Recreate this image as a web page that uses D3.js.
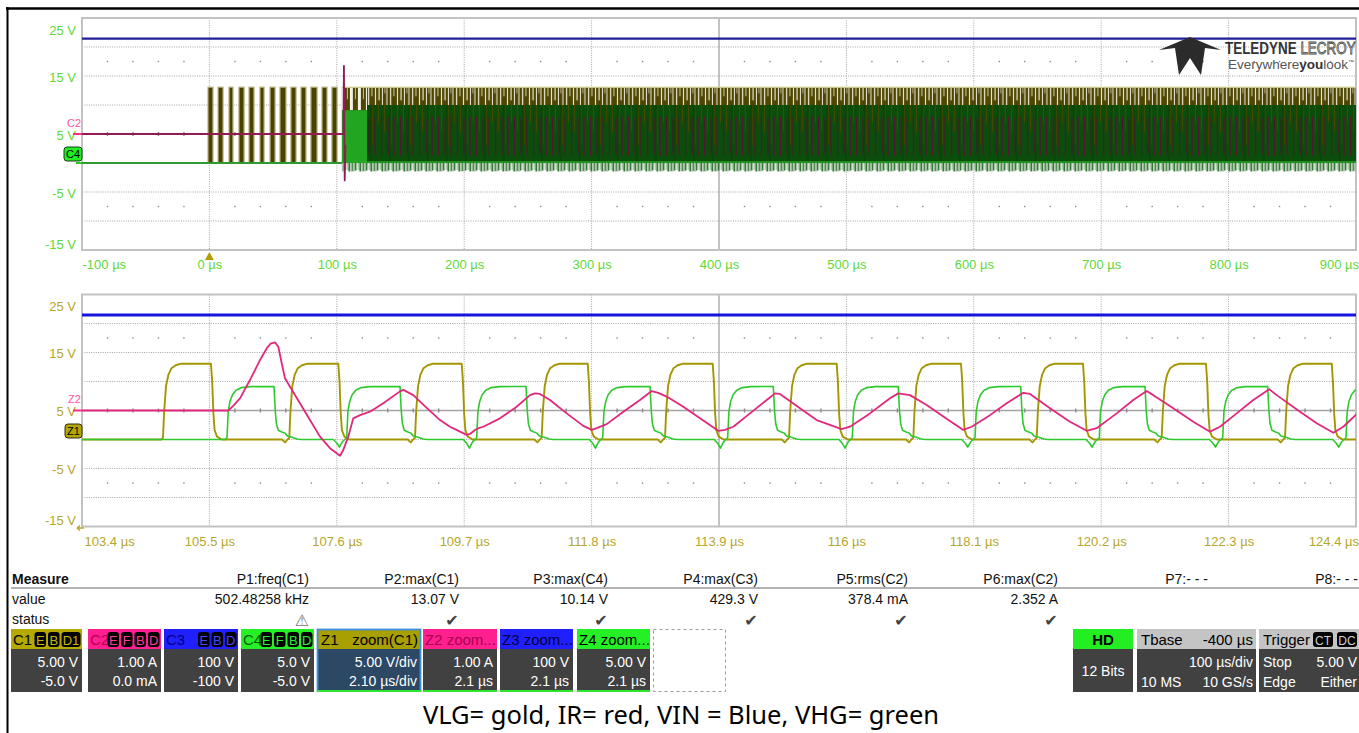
<!DOCTYPE html>
<html><head><meta charset="utf-8">
<script src="https://cdn.jsdelivr.net/npm/d3@7"></script>
<style>
html,body{margin:0;padding:0;background:#fff;}
svg{display:block;}
</style></head><body>
<svg id="c" width="1359" height="733"></svg>
<script>
// ---------------- DATA ----------------
const topTimeTicks = [-100, 0, 100, 200, 300, 400, 500, 600, 700, 800, 900];
const topTimeLabels = ["-100 µs","0 µs","100 µs","200 µs","300 µs","400 µs","500 µs","600 µs","700 µs","800 µs","900 µs"];
const zoomTimeTicks = [103.4, 105.5, 107.6, 109.7, 111.8, 113.9, 116.0, 118.1, 120.2, 122.3, 124.4];
const zoomTimeLabels = ["103.4 µs","105.5 µs","107.6 µs","109.7 µs","111.8 µs","113.9 µs","116 µs","118.1 µs","120.2 µs","122.3 µs","124.4 µs"];
const voltTicks = [25, 15, 5, -5, -15];
const voltLabels = ["25 V","15 V","5 V","-5 V","-15 V"];

// channel vertical settings (value at screen centre, units per division): C1, C2, C3, C4
const chanCenter = [5, 0, 100, 5];
const chanPerDiv = [5, 1, 100, 5];

// ---- top (full acquisition) trace, µs ----
const topVin = [[-100, 429], [900, 429]];                       // C3, V
const topBaseline = [[-100, 0], [104, 0]];                      // C1 / C4 before switching, V
const topIrPre = [[-100, 0], [105.2, 0], [105.6, 2.35], [106.2, -1.6], [106.8, -0.4]]; // C2, A
const topGoldBursts = [[-1.1,2.8],[6.8,10.7],[15.4,18.5],[23.2,27.2],[31.1,35.0],[39.7,42.9],[47.6,51.5],[55.4,60.1],[64.0,68.0],[71.9,75.8],[79.7,84.5],[88.4,92.3],[96.2,100.2]];
const topDenseSpan = [104, 900];       // continuous switching, µs
const topStartupEnd = 123.7;           // end of the start-up burst, µs
const topGoldEnvelope = [0, 13.07];    // V
const topGreenEnvelopeStartup = [-1.5, 9.1]; // V
const topGreenEnvelope = [-1.5, 10.0]; // V
const topIrEnvelope = [-0.75, 0.6];    // A

// ---- zoom trace, µs ----
const zVin = [[103.4, 429], [124.4, 429]];
const zGoldRise = [104.735, 106.817, 108.889, 110.977, 113.010, 115.054, 117.103, 119.137, 121.197, 123.230];
const zGoldFall = [105.526, 107.625, 109.659, 111.736, 113.796, 115.840, 117.889, 119.900, 121.927, 124.000];
const zGoldDip  = [0, -0.5, -0.5, -0.5, -0.5, -0.5, -0.5, -0.5, -0.5, -0.5];
const goldRiseShape = [[-0.12,0],[-0.07,"dip",1],[-0.03,0],[0,0.3],[0.02,5],[0.05,9.2],[0.09,11.2],[0.14,12.3],[0.21,12.8],[0.3,13.07]];
const goldFallShape = [[0,13.07],[0.02,10],[0.04,4.5],[0.06,1.6],[0.1,0.5],[0.18,0]];
const zGreenRise = [105.790, 107.763, 109.906, 111.983, 114.043, 116.097, 118.120, 120.169, 122.203, 124.235];
const zGreenFall = [106.565, 108.642, 110.719, 112.763, 114.795, 116.855, 118.873, 120.922, 122.944];
const zGreenDip  = [0, -1.3, -1.5, -1.5, -1.5, -1.5, -1.3, -1.3, -1.3, -1.3];
const greenRiseShape = [[-0.22,0],[-0.16,"dip",0.5],[-0.12,"dip",1],[-0.07,"dip",0.3],[-0.03,0],[0,0.3],[0.02,4.8],[0.05,6.6],[0.09,7.7],[0.15,8.5],[0.24,8.95],[0.38,9.12]];
const greenFallShape = [[0,9.15],[0.02,5],[0.04,2.7],[0.07,1.6],[0.12,1.35],[0.18,1.1],[0.22,0.6],[0.3,0.4],[0.38,0.1],[0.45,0]];
const zIr = [[103.4,0],[105.812,0],[105.889,0.15],[106.004,0.42],[106.169,1.05],[106.334,1.74],[106.444,2.14],[106.510,2.31],[106.581,2.35],[106.636,2.2],[106.692,1.63],[106.746,1.11],[106.829,0.82],[106.993,0.25],[107.158,-0.33],[107.323,-0.9],[107.488,-1.3],[107.653,-1.56],[107.707,-1.36],[107.790,-0.9],[107.872,-0.27],[107.983,-0.16],[108.147,-0.04],[108.366,0.25],[108.642,0.66],[108.696,0.71],[108.861,0.53],[109.082,0.09],[109.301,-0.33],[109.466,-0.56],[109.631,-0.73],[109.741,-0.84],[109.796,-0.81],[109.878,-0.67],[109.932,-0.61],[110.015,-0.56],[110.290,-0.27],[110.565,0.13],[110.785,0.53],[110.867,0.59],[110.949,0.57],[111.114,0.36],[111.390,-0.1],[111.663,-0.53],[111.802,-0.67],[111.884,-0.61],[112.049,-0.47],[112.323,-0.04],[112.598,0.36],[112.791,0.67],[112.899,0.61],[113.038,0.48],[113.312,0.13],[113.587,-0.27],[113.888,-0.7],[113.999,-0.67],[114.136,-0.56],[114.411,-0.1],[114.686,0.36],[114.823,0.59],[114.905,0.57],[115.235,0.08],[115.510,-0.33],[115.922,-0.64],[116.059,-0.56],[116.389,-0.1],[116.719,0.42],[116.856,0.59],[117.048,0.53],[117.323,0.19],[117.597,-0.21],[117.927,-0.67],[118.065,-0.56],[118.367,-0.16],[118.642,0.25],[118.916,0.61],[119.026,0.57],[119.356,0.08],[119.685,-0.39],[119.961,-0.7],[120.126,-0.61],[120.455,-0.1],[120.729,0.36],[120.950,0.67],[121.059,0.53],[121.388,0.08],[121.718,-0.39],[121.993,-0.73],[122.158,-0.56],[122.433,-0.1],[122.707,0.36],[122.971,0.73],[123.093,0.53],[123.477,-0.04],[123.752,-0.44],[124.027,-0.77],[124.191,-0.56],[124.412,-0.12]];

// ---- measurements / descriptors ----
const measureNames = ["P1:freq(C1)","P2:max(C1)","P3:max(C4)","P4:max(C3)","P5:rms(C2)","P6:max(C2)","P7:- - -","P8:- - -"];
const measureValues = ["502.48258 kHz","13.07 V","10.14 V","429.3 V","378.4 mA","2.352 A","",""];
const measureStatus = ["warn","ok","ok","ok","ok","ok","",""];
const chanBoxLabels = ["C1","C2","C3","C4"];
const chanBoxBadges = [["E","B","D1"],["E","F","B","D"],["E","B","D"],["E","F","B","D"]];
const chanBoxScale = ["5.00 V","1.00 A","100 V","5.0 V"];
const chanBoxOffset = ["-5.0 V","0.0 mA","-100 V","-5.0 V"];
const zoomBoxLabels = ["Z1","Z2","Z3","Z4"];
const zoomBoxTitles = ["zoom(C1)","zoom...","zoom...","zoom..."];
const zoomBoxScale = ["5.00 V/div","1.00 A","100 V","5.00 V"];
const zoomBoxTime = ["2.10 µs/div","2.1 µs","2.1 µs","2.1 µs"];
const caption = "VLG= gold, IR= red, VIN = Blue, VHG= green";

// ---------------- DRAWING ----------------
const W = 1359, H = 733;
const F = '"Liberation Sans", Arial, sans-serif';
const svg = d3.select("#c");
const defs = svg.append("defs");

svg.append("line").attr("x1",6).attr("x2",W).attr("y1",8.5).attr("y2",8.5).attr("stroke","#000").attr("stroke-width",2.5);
svg.append("line").attr("x1",7.5).attr("x2",7.5).attr("y1",7).attr("y2",H).attr("stroke","#000").attr("stroke-width",2);

const L = 82, R = 1356;
const topT = 18, topB = 250, botT = 294.5, botB = 526.5;
const xTop = d3.scaleLinear().domain([topTimeTicks[0], topTimeTicks[topTimeTicks.length-1]]).range([L, R]);
const xZoom = d3.scaleLinear().domain([zoomTimeTicks[0], zoomTimeTicks[zoomTimeTicks.length-1]]).range([L, R]);
const yTop = d3.scaleLinear().domain([-15, 25]).range([topB, topT]);
const yZoom = d3.scaleLinear().domain([-15, 25]).range([botB, botT]);
const chanToDisp = ci => v => 5 + (v - chanCenter[ci]) / chanPerDiv[ci] * 5;
const c1 = chanToDisp(0), c2 = chanToDisp(1), c3 = chanToDisp(2), c4 = chanToDisp(3);

function grid(x, y, ticks) {
  const g = svg.append("g");
  const x0 = x.range()[0], x1 = x.range()[1];
  const hv = [20, 15, 10, 0, -5, -10];
  g.selectAll(null).data(hv).join("line")
    .attr("x1", x0).attr("x2", x1).attr("y1", d => y(d)).attr("y2", d => y(d))
    .attr("stroke", "#a6a6a6").attr("stroke-width", 1).attr("stroke-dasharray", "1,1.3");
  const inner = ticks.slice(1, -1);
  g.selectAll(null).data(inner).join("line")
    .attr("x1", d => x(d)).attr("x2", d => x(d)).attr("y1", y(25)).attr("y2", y(-15))
    .attr("stroke", (d, i) => i === 4 ? "#b4b4b4" : "#a6a6a6")
    .attr("stroke-width", (d, i) => i === 4 ? 1.6 : 1)
    .attr("stroke-dasharray", (d, i) => i === 4 ? null : "1,1.3");
  g.append("line").attr("x1", x0).attr("x2", x1).attr("y1", y(5)).attr("y2", y(5))
    .attr("stroke", "#a4a4a4").attr("stroke-width", 1.4);
  const step = (ticks[1] - ticks[0]) / 5;
  const minor = [];
  for (let k = 1; k < 50; k++) if (k % 5) minor.push(ticks[0] + k * step);
  [17.5, 5, -7.5].forEach(v => {
    g.selectAll(null).data(minor).join("rect")
      .attr("x", d => x(d) - 0.7).attr("y", y(v) - (v === 5 ? 2 : 0.7))
      .attr("width", 1.4).attr("height", v === 5 ? 4 : 1.4).attr("fill", "#8a8a8a");
  });
  g.append("rect").attr("x", x0).attr("y", y(25)).attr("width", x1 - x0).attr("height", y(-15) - y(25))
    .attr("fill", "none").attr("stroke", "#c2c2c2").attr("stroke-width", 2);
}
grid(xTop, yTop, topTimeTicks);
grid(xZoom, yZoom, zoomTimeTicks);

function xAxis(yPos, scale, ticks, labels, color, firstDx) {
  const ax = d3.axisBottom(scale).tickValues(ticks).tickFormat((d, i) => labels[i]).tickSize(0).tickPadding(10);
  const g = svg.append("g").attr("transform", `translate(0,${yPos})`).call(ax);
  g.select(".domain").remove();
  g.attr("font-family", F).attr("font-size", 13);
  g.selectAll("text").attr("fill", color);
  const t = g.selectAll("text").nodes();
  d3.select(t[0]).attr("text-anchor", "start").attr("dx", firstDx);
  d3.select(t[t.length - 1]).attr("text-anchor", "end").attr("dx", 2.5);
}
function yAxis(scale, color) {
  const ax = d3.axisLeft(scale).tickValues(voltTicks).tickFormat((d, i) => voltLabels[i]).tickSize(0).tickPadding(6);
  const g = svg.append("g").attr("transform", `translate(${L},0)`).call(ax);
  g.select(".domain").remove();
  g.attr("font-family", F).attr("font-size", 13);
  g.selectAll("text").attr("fill", color).attr("dy", "0.42em");
  const t = g.selectAll("text").nodes();
  d3.select(t[0]).attr("y", 11);
  d3.select(t[t.length - 1]).attr("y", -7);
}
xAxis(topB, xTop, topTimeTicks, topTimeLabels, "#5fd83a", 0);
xAxis(botB, xZoom, zoomTimeTicks, zoomTimeLabels, "#b5a62c", 2);
yAxis(yTop, "#5fd83a");
yAxis(yZoom, "#b5a62c");

// clip paths
defs.append("clipPath").attr("id", "clipTop").append("rect").attr("x", L).attr("y", topT).attr("width", R - L).attr("height", topB - topT);
defs.append("clipPath").attr("id", "clipBot").append("rect").attr("x", L).attr("y", botT).attr("width", R - L).attr("height", botB - botT);

function trace(g, x, y, f, data, color, w) {
  g.append("path").datum(data)
    .attr("d", d3.line().x(d => x(d[0])).y(d => y(f(d[1]))))
    .attr("fill", "none").attr("stroke", color).attr("stroke-width", w)
    .attr("stroke-linejoin", "round");
}

// stripe patterns for the persistence band (items: [dx, y0px, y1px, width, colour])
function pattern(id, w, bg, items) {
  const p = defs.append("pattern").attr("id", id).attr("patternUnits", "userSpaceOnUse")
    .attr("x", xTop(topDenseSpan[0])).attr("y", 0).attr("width", w).attr("height", H);
  if (bg) p.append("rect").attr("width", w).attr("height", H).attr("fill", bg);
  items.forEach(([dx, a, b, ww, col]) => p.append("rect").attr("x", dx).attr("y", Math.min(a, b))
    .attr("width", ww).attr("height", Math.abs(b - a)).attr("fill", col));
}
const yGoldHi = yTop(c1(topGoldEnvelope[1])), yGoldLo = yTop(c1(topGoldEnvelope[0]));
const yGrHi = yTop(c4(topGreenEnvelope[1])), yGrHiS = yTop(c4(topGreenEnvelopeStartup[1]));
const yGr0 = yTop(c4(0)), yGrLo = yTop(c4(topGreenEnvelope[0]));
const yIrHi = yTop(c2(topIrEnvelope[1])), yIrLo = yTop(c2(topIrEnvelope[0]));
pattern("goldGap", 22, null, [
  [0.5, yGoldHi, yGrHi, 1, "#efeee0"], [4, yGoldHi, yGrHi, 1.3, "#e4e2c8"], [7.5, yGoldHi, yTop(c1(11.5)), 1, "#d9d6b0"],
  [11, yGoldHi, yGrHi, 1.1, "#f0efe2"], [14.5, yGoldHi, yTop(c1(10.8)), 1.3, "#e0ddbf"], [18, yGoldHi, yGrHi, 1, "#efeee0"],
  [20.5, yGoldHi, yTop(c1(12)), 0.8, "#cfcaa0"]]);
pattern("goldGapA", 8, null, [[0, yGoldHi, yGrHiS, 3, "#f2f1e6"], [5, yGoldHi, yTop(c1(11)), 1, "#c9c396"]]);
pattern("greenStripes", 19, null, [
  [1, yIrHi, yIrLo, 1.2, "#561237"], [7.5, yTop(c2(0.55)), yTop(c2(-0.7)), 1.2, "#4e1531"], [13.5, yIrHi, yIrLo, 1.2, "#5a1038"],
  [4, yGrHi, yTop(c4(5.5)), 1, "#4a4600"], [11, yGrHi, yTop(c4(3)), 1, "#454100"], [17, yGrHi, yTop(c4(7)), 1, "#4c4700"],
  [9.5, yGrHi, yGr0, 0.8, "#063906"]]);
pattern("fringe", 11, null, [
  [0, yGr0, yGrLo, 2, "#a9c2a9"], [2, yGr0, yTop(c4(-1.3)), 1.5, "#2a752a"], [4.5, yGr0, yTop(c4(-1.2)), 1.8, "#b3c8b3"],
  [6.5, yGr0, yGrLo, 1.5, "#237023"], [8.3, yGr0, yGrLo, 1.8, "#a3bda3"], [10.1, yGr0, yTop(c4(-1.4)), 0.9, "#2f7a2f"]]);

// ---- top panel traces ----
const gTop = svg.append("g").attr("clip-path", "url(#clipTop)");
trace(gTop, xTop, yTop, c3, topVin, "#1f1f98", 2.2);
trace(gTop, xTop, yTop, c1, topBaseline, "#8a8000", 2);
gTop.selectAll(null).data(topGoldBursts).join("rect")
  .attr("x", d => xTop(d[0])).attr("width", d => xTop(d[1]) - xTop(d[0]))
  .attr("y", yGoldHi).attr("height", yGoldLo - yGoldHi)
  .attr("fill", "#4a4200").attr("stroke", "#b6ae7c").attr("stroke-width", 1.2);
const xd0 = xTop(topDenseSpan[0]), xd1 = xTop(topDenseSpan[1]), xs1 = xTop(topStartupEnd);
gTop.append("rect").attr("x", xd0).attr("y", yGoldHi).attr("width", xd1 - xd0).attr("height", yGoldLo - yGoldHi).attr("fill", "#4d4500");
gTop.append("rect").attr("x", xs1).attr("y", yGoldHi).attr("width", xd1 - xs1).attr("height", yGrHi - yGoldHi).attr("fill", "url(#goldGap)");
gTop.append("rect").attr("x", xd0).attr("y", yGoldHi).attr("width", xs1 - xd0).attr("height", yGrHiS - yGoldHi).attr("fill", "url(#goldGapA)");
gTop.append("rect").attr("x", xd0).attr("y", yGoldHi - 0.5).attr("width", xd1 - xd0).attr("height", 1.2).attr("fill", "#d2cc92");
gTop.append("rect").attr("x", xs1).attr("y", yGrHi).attr("width", xd1 - xs1).attr("height", yGr0 - yGrHi).attr("fill", "#0b4d0b");
gTop.append("rect").attr("x", xd0).attr("y", yGrHiS).attr("width", xs1 - xd0).attr("height", yGr0 - yGrHiS).attr("fill", "#22a622");
gTop.append("rect").attr("x", xs1).attr("y", yGrHi).attr("width", xd1 - xs1).attr("height", yGr0 - yGrHi).attr("fill", "url(#greenStripes)");
gTop.append("rect").attr("x", xd0).attr("y", yGr0).attr("width", xd1 - xd0).attr("height", yGrLo - yGr0).attr("fill", "url(#fringe)");
gTop.append("line").attr("x1", xd0).attr("x2", xd1).attr("y1", yGr0 - 1).attr("y2", yGr0 - 1).attr("stroke", "#27a727").attr("stroke-width", 1.6);
trace(gTop, xTop, yTop, c4, topBaseline, "#2f9a2f", 1.8);
trace(gTop, xTop, yTop, c2, topIrPre, "#931a55", 1.8);

// ---- zoom panel traces ----
function buildPulses(start, end, rises, falls, riseShape, fallShape, dips) {
  const pts = [[start, 0]];
  rises.forEach((r, i) => {
    riseShape.forEach(([dt, v, fr]) => pts.push([r + dt, v === "dip" ? dips[i] * fr : v]));
    if (i < falls.length) fallShape.forEach(([dt, v]) => pts.push([falls[i] + dt, v]));
  });
  const last = pts[pts.length - 1];
  if (last[0] < end) pts.push([end, last[1]]);
  return pts;
}
const zGold = buildPulses(103.4, 124.4, zGoldRise, zGoldFall, goldRiseShape, goldFallShape, zGoldDip);
const zGreen = buildPulses(103.4, 124.4, zGreenRise, zGreenFall, greenRiseShape, greenFallShape, zGreenDip);
const gBot = svg.append("g").attr("clip-path", "url(#clipBot)");
trace(gBot, xZoom, yZoom, c3, zVin, "#1515dc", 3);
trace(gBot, xZoom, yZoom, c1, zGold, "#a49600", 1.9);
trace(gBot, xZoom, yZoom, c4, zGreen, "#2fc92f", 1.6);
trace(gBot, xZoom, yZoom, c2, zIr, "#e0287c", 1.8);

// ---- channel markers ----
const fM = F;
svg.append("text").attr("x", 67).attr("y", 127).attr("font-family", fM).attr("font-size", 11).attr("fill", "#ff55a6").text("C2");
svg.append("line").attr("x1", 73).attr("x2", L).attr("y1", yTop(c2(0))).attr("y2", yTop(c2(0))).attr("stroke", "#ff2a8a").attr("stroke-width", 2);
svg.append("rect").attr("x", 64).attr("y", 147).attr("width", 18).attr("height", 14).attr("rx", 3).attr("fill", "#22ee22").attr("stroke", "#1b3f1b");
svg.append("text").attr("x", 73).attr("y", 158).attr("text-anchor", "middle").attr("font-family", fM).attr("font-size", 11).attr("fill", "#000").text("C4");
svg.append("line").attr("x1", 76).attr("x2", L).attr("y1", yTop(c4(0))).attr("y2", yTop(c4(0))).attr("stroke", "#22cc22").attr("stroke-width", 2);
svg.append("path").attr("d", `M${xTop(0) - 4.5},260 L${xTop(0) + 4.5},260 L${xTop(0)},252 Z`).attr("fill", "#b39d00");

svg.append("text").attr("x", 68).attr("y", 403).attr("font-family", fM).attr("font-size", 11).attr("fill", "#ff55a6").text("Z2");
svg.append("line").attr("x1", 73).attr("x2", L).attr("y1", yZoom(c2(0))).attr("y2", yZoom(c2(0))).attr("stroke", "#ff2a8a").attr("stroke-width", 2);
svg.append("rect").attr("x", 65).attr("y", 424).attr("width", 17).attr("height", 14).attr("rx", 3).attr("fill", "#b3a600").attr("stroke", "#2e2e12");
svg.append("text").attr("x", 73.5).attr("y", 435).attr("text-anchor", "middle").attr("font-family", fM).attr("font-size", 11).attr("fill", "#000").text("Z1");
svg.append("path").attr("d", "M77,528 L84,528 M77,528 L80,525.5 M77,528 L80,530.5").attr("stroke", "#b5a62c").attr("stroke-width", 1.3).attr("fill", "none");

// ---- logo ----
svg.append("polygon").attr("points", "1159,50 1190,37 1221,50 1205,48 1201,75 1190,58 1179,75 1175,48").attr("fill", "#2b2b2b");
const lg = svg.append("text").attr("transform", "translate(1225,54) scale(0.84,1)")
  .attr("font-family", F).attr("font-size", 16);
lg.append("tspan").attr("font-weight", "bold").attr("fill", "#333").text("TELEDYNE");
lg.append("tspan").attr("fill", "#e6e6e6").attr("stroke", "#444").attr("stroke-width", 0.8).text(" LECROY");
const ev = svg.append("text").attr("x", 1228).attr("y", 69).attr("font-family", F).attr("font-size", 13.5).attr("fill", "#555");
ev.append("tspan").text("Everywhere");
ev.append("tspan").attr("font-weight", "bold").attr("fill", "#333").text("you");
ev.append("tspan").text("look");
ev.append("tspan").attr("font-size", 6).attr("dy", -5).text("™");

// ---- measurement table ----
const mt = svg.append("g").attr("font-family", F).attr("font-size", 14).attr("fill", "#111");
mt.append("text").attr("x", 12).attr("y", 584).attr("font-weight", "bold").text("Measure");
mt.append("text").attr("x", 12).attr("y", 604).text("value");
mt.append("text").attr("x", 12).attr("y", 624).text("status");
mt.append("line").attr("x1", 11).attr("x2", W).attr("y1", 588).attr("y2", 588).attr("stroke", "#b3b3b3").attr("stroke-width", 2);
const colR = measureNames.map((d, i) => 309 + 150 * i - (i >= 2 ? 1 : 0));
mt.selectAll(null).data(measureNames).join("text").attr("x", (d, i) => colR[i]).attr("y", 584).attr("text-anchor", "end").text(d => d);
mt.selectAll(null).data(measureValues).join("text").attr("x", (d, i) => colR[i]).attr("y", 604).attr("text-anchor", "end").text(d => d);
mt.selectAll(null).data(measureStatus).join("text").attr("x", (d, i) => colR[i] - 7).attr("y", 626)
  .attr("text-anchor", "middle").attr("font-family", "DejaVu Sans").attr("font-size", 16)
  .attr("font-weight", "bold")
  .attr("fill", d => d === "warn" ? "#7a7a7a" : "#444").text(d => d === "warn" ? "⚠" : d === "ok" ? "✔" : "");

// ---- channel / zoom descriptor boxes ----
const bg = svg.append("g").attr("font-family", F).attr("font-size", 14);
function boxBase(x, w, head, body) {
  bg.append("rect").attr("x", x).attr("y", 629).attr("width", w).attr("height", 20).attr("fill", head);
  bg.append("rect").attr("x", x).attr("y", 649).attr("width", w).attr("height", 43).attr("fill", body);
}
function t(x, y, s, anchor, fill, extra) {
  const e = bg.append("text").attr("x", x).attr("y", y).attr("text-anchor", anchor).attr("fill", fill).text(s);
  if (extra) extra(e);
  return e;
}
const chX = [11, 88, 164, 241], chW = [71, 73, 74, 73];
const chHead = ["#b5a900", "#ff1f8f", "#2020ff", "#25f025"];
const chBadgeTxt = ["#c4b800", "#ff3a9c", "#4848ff", "#2cf02c"];
const chLabelTxt = ["#000", "#b8005a", "#00007a", "#0a5a0a"];
chanBoxLabels.forEach((lab, i) => {
  boxBase(chX[i], chW[i], chHead[i], "#414141");
  t(chX[i] + 2, 645, lab, "start", chLabelTxt[i], e => e.attr("font-size", 15));
  let xr = chX[i] + chW[i] - 1.5;
  chanBoxBadges[i].slice().reverse().forEach(b => {
    const bw = b.length > 1 ? 19 : 11.5;
    bg.append("rect").attr("x", xr - bw).attr("y", 632).attr("width", bw).attr("height", 15).attr("rx", 3).attr("fill", "#000");
    t(xr - bw / 2, 644.5, b, "middle", chBadgeTxt[i], e => e.attr("font-size", 13));
    xr -= bw + 2;
  });
  t(chX[i] + chW[i] - 4, 667, chanBoxScale[i], "end", "#fff");
  t(chX[i] + chW[i] - 4, 686, chanBoxOffset[i], "end", "#fff");
});
const zX = [317, 423, 500, 577], zW = [104, 74, 73, 73];
const zHead = ["#a89f00", "#ff1f8f", "#2020ff", "#25f025"];
const zLabelTxt = ["#000", "#a8004e", "#00003a", "#000"];
zoomBoxLabels.forEach((lab, i) => {
  boxBase(zX[i], zW[i], zHead[i], i === 0 ? "#2c4864" : "#414141");
  if (i === 0) {
    t(zX[i] + 4, 645, lab, "start", "#000", e => e.attr("font-size", 15));
    t(zX[i] + zW[i] - 3, 645, zoomBoxTitles[i], "end", "#000", e => e.attr("font-size", 15));
    bg.append("rect").attr("x", zX[i] + 0.5).attr("y", 629.5).attr("width", zW[i] - 1).attr("height", 61.5).attr("fill", "none").attr("stroke", "#3d8fe0").attr("stroke-width", 1.8);
  } else {
    t(zX[i] + 2, 645, lab + " " + zoomBoxTitles[i], "start", zLabelTxt[i], e => e.attr("font-size", 15));
  }
  bg.append("rect").attr("x", zX[i]).attr("y", 690).attr("width", zW[i]).attr("height", 2).attr("fill", "#2ee62e");
  t(zX[i] + zW[i] - 4, 667, zoomBoxScale[i], "end", "#fff");
  t(zX[i] + zW[i] - 4, 686, zoomBoxTime[i], "end", "#fff");
});
bg.append("rect").attr("x", 653.5).attr("y", 629.5).attr("width", 72).attr("height", 62).attr("fill", "none").attr("stroke", "#9a9a9a").attr("stroke-dasharray", "3,3");

// HD / Tbase / Trigger
boxBase(1073, 60, "#22ee22", "#414141");
t(1103, 645, "HD", "middle", "#000", e => e.attr("font-weight", "bold").attr("font-size", 15));
t(1103, 676, "12 Bits", "middle", "#fff");
boxBase(1137, 119, "#c4c4c4", "#414141");
t(1141, 645, "Tbase", "start", "#000", e => e.attr("font-size", 15));
t(1253, 645, "-400 µs", "end", "#000", e => e.attr("font-size", 15));
t(1253, 667, "100 µs/div", "end", "#fff");
t(1141, 687, "10 MS", "start", "#fff");
t(1253, 687, "10 GS/s", "end", "#fff");
boxBase(1259, 100, "#c4c4c4", "#414141");
t(1263, 645, "Trigger", "start", "#000", e => e.attr("font-size", 15));
[["CT", 1313], ["DC", 1337]].forEach(([s, x]) => {
  bg.append("rect").attr("x", x).attr("y", 632).attr("width", 20).attr("height", 15).attr("rx", 3).attr("fill", "#000");
  t(x + 10, 644.5, s, "middle", "#d0d0d0", e => e.attr("font-size", 12));
});
t(1263, 667, "Stop", "start", "#fff");
t(1357, 667, "5.00 V", "end", "#fff");
t(1263, 687, "Edge", "start", "#fff");
t(1357, 687, "Either", "end", "#fff");

// caption
svg.append("text").attr("x", 681).attr("y", 724).attr("text-anchor", "middle")
  .attr("font-family", "'Noto Sans', 'Open Sans', sans-serif").attr("font-size", 25.5).attr("fill", "#000").text(caption);
</script></body></html>
